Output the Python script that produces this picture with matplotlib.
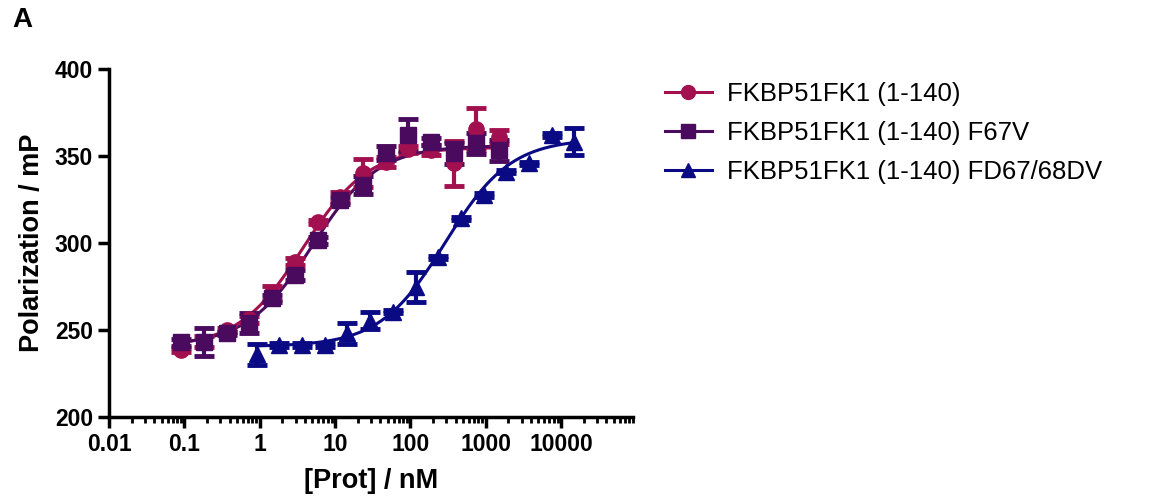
import numpy as np
import matplotlib
matplotlib.use("Agg")
import matplotlib.pyplot as plt
from matplotlib.ticker import LogLocator, NullFormatter, FixedLocator, FixedFormatter

plt.rcParams['font.family'] = ['Liberation Sans', 'DejaVu Sans']

# ---- data ----
conc_wt = [0.0916, 0.183, 0.366, 0.732, 1.46, 2.93, 5.86, 11.7, 23.4, 46.9, 93.75, 187.5, 375, 750, 1500]
pol_wt = [238.5, 243.3, 250.0, 256.2, 271.1, 289.3, 312.2, 326.3, 340.0, 346.7, 353.8, 353.4, 345.8, 365.3, 361.0]
err_wt = [1, 3, 1, 2, 4, 2, 1, 3, 8, 3, 2, 3, 13, 12, 4]

conc_f67v = [0.0916, 0.183, 0.366, 0.732, 1.46, 2.93, 5.86, 11.7, 23.4, 46.9, 93.75, 187.5, 375, 750, 1500]
pol_f67v = [243.0, 243.3, 248.0, 254.0, 268.2, 281.6, 301.7, 324.7, 333.3, 351.5, 362.0, 358.2, 351.5, 357.3, 353.4]
err_f67v = [2, 8, 1, 6, 2, 3, 2, 2, 5, 4, 9, 2, 6, 6, 6]

conc_fd = [0.92, 1.83, 3.66, 7.3, 14.6, 29.3, 58.6, 117, 234, 469, 937.5, 1875, 3750, 7500, 15000]
pol_fd = [236.0, 241.4, 241.4, 241.4, 248.0, 255.4, 260.5, 274.5, 291.8, 314.2, 327.6, 341.0, 345.8, 362.0, 358.2]
err_fd = [6, 1, 1, 1, 6, 5, 1, 8.6, 1, 1, 1, 1, 1, 1, 7.7]

# fitted sigmoid parameters (bottom, top, EC50 nM, hill)
fit_wt = (240.0, 355.0, 3.8, 1.0)
fit_f67v = (241.0, 356.0, 5.0, 1.0)
fit_fd = (240.5, 360.0, 290.0, 1.0)

labels = ["FKBP51FK1 (1-140)", "FKBP51FK1 (1-140) F67V", "FKBP51FK1 (1-140) FD67/68DV"]
colors = ["#A3104F", "#4A0A5E", "#0A0A85"]
markers = ["o", "s", "^"]

xticks = [0.01, 0.1, 1, 10, 100, 1000, 10000]
xticklabels = ["0.01", "0.1", "1", "10", "100", "1000", "10000"]
yticks = [200, 250, 300, 350, 400]

fig = plt.figure(figsize=(11.63, 5.01), dpi=100)
ax = fig.add_axes([109/1163, 1-417/501, (633-109)/1163, (417-69)/501])

def sig(x, p):
    b, t, ec, h = p
    return b + (t - b) / (1 + (ec / x) ** h)

series = [
    (conc_wt, pol_wt, err_wt, fit_wt),
    (conc_f67v, pol_f67v, err_f67v, fit_f67v),
    (conc_fd, pol_fd, err_fd, fit_fd),
]
handles = []
for i, (c, p, e, f) in enumerate(series):
    c = np.array(c)
    xs = np.logspace(np.log10(c.min()), np.log10(c.max()), 300)
    ax.plot(xs, sig(xs, f), color=colors[i], lw=2.2, zorder=2 + i * 0.1)
    ax.errorbar(c, p, yerr=e, fmt='none', ecolor=colors[i], elinewidth=3,
                capsize=7, capthick=3.5, zorder=3 + i * 0.1)
    ax.plot(c, p, linestyle='none', marker=markers[i], color=colors[i],
            markersize=11, zorder=3.5 + i * 0.1)
    h, = ax.plot([], [], color=colors[i], lw=2.2, marker=markers[i], markersize=10)
    handles.append(h)

ax.set_xscale('log')
ax.set_xlim(0.01, 90000)
ax.set_ylim(200, 400)
for s in ['top', 'right']:
    ax.spines[s].set_visible(False)
for s in ['left', 'bottom']:
    ax.spines[s].set_linewidth(2.5)

ax.xaxis.set_major_locator(FixedLocator(xticks))
ax.xaxis.set_major_formatter(FixedFormatter(xticklabels))
ax.xaxis.set_minor_locator(LogLocator(base=10, subs=np.arange(2, 10), numticks=20))
ax.xaxis.set_minor_formatter(NullFormatter())
ax.set_yticks(yticks)
ax.tick_params(axis='both', which='major', direction='out', length=8, width=2.5,
               labelsize=16.5)
ax.tick_params(axis='x', which='minor', direction='out', length=4.5, width=2)
for lab in ax.get_xticklabels() + ax.get_yticklabels():
    lab.set_fontweight('bold')

ax.set_xlabel("[Prot] / nM", fontsize=19.5, fontweight='bold', labelpad=9)
ax.set_ylabel("Polarization / mP", fontsize=19.5, fontweight='bold', labelpad=7)

fig.text(12/1163, 1-20/501, "A", fontsize=20, fontweight='bold', va='center', ha='left')

fig.legend(handles, labels, loc='upper left', bbox_to_anchor=(655/1163, 1-72/501),
           frameon=False, fontsize=18.5, handlelength=1.8, labelspacing=0.58,
           handletextpad=0.6, borderaxespad=0)

fig.savefig("out.png", dpi=100)
